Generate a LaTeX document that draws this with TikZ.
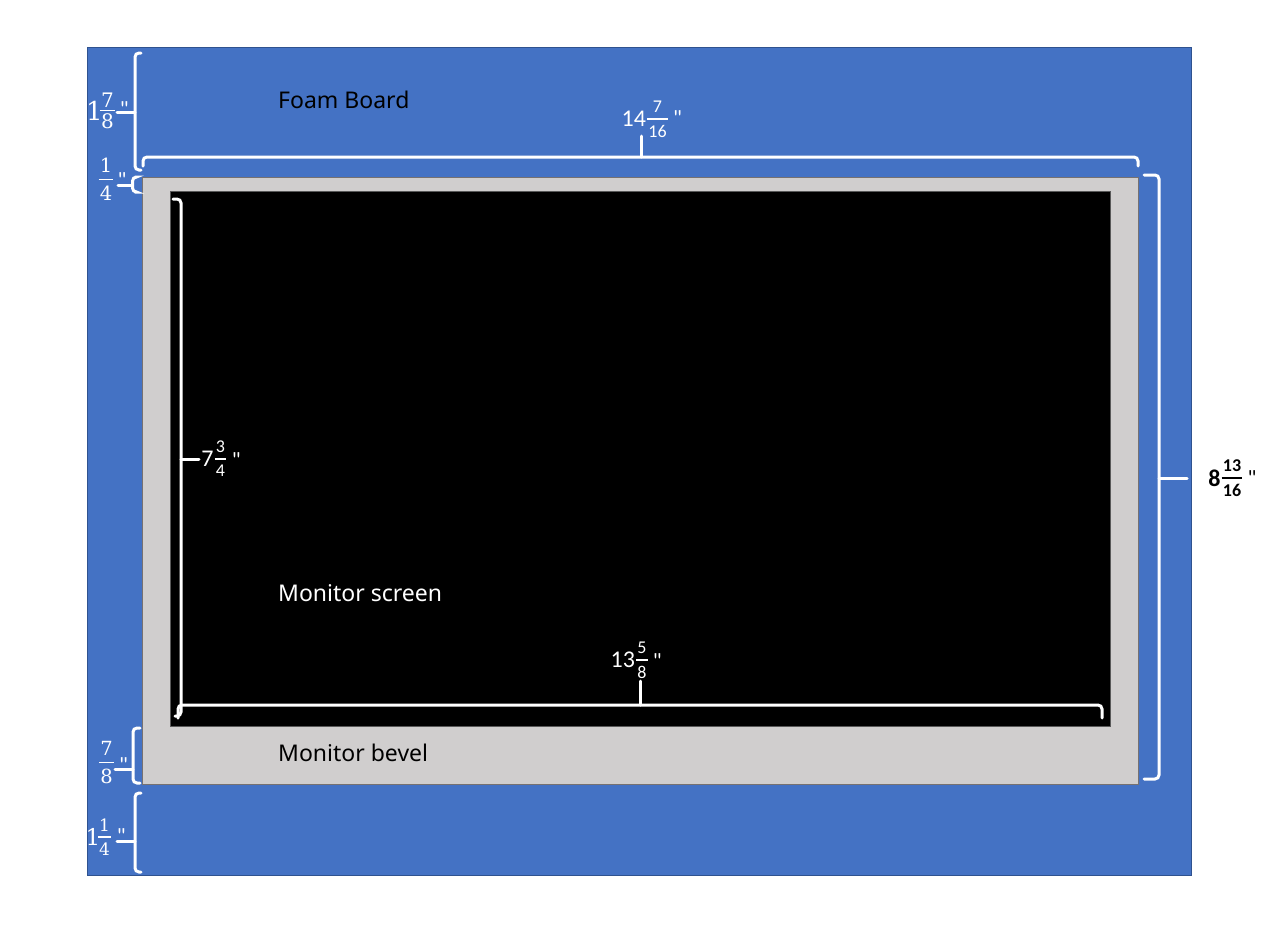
\documentclass[tikz,border=0pt]{standalone}
\usepackage{fontspec}
\usetikzlibrary{fit}
\setmainfont{Noto Sans}
\newfontfamily\calfont{Carlito}
\newfontfamily\serfont{DejaVu Serif}
\definecolor{boardblue}{HTML}{4472C4}
\definecolor{boardedge}{HTML}{2F528F}
\definecolor{bevelgray}{HTML}{D0CECE}
\definecolor{beveledge}{HTML}{767171}
\definecolor{screenedge}{HTML}{595959}
% fraction: #1 name, #2 x, #3 y (bar), #4 num, #5 den, #6 style, #7 gap
\newcommand\fracnodes[7]{%
  \coordinate (#1y) at (#2,#3);
  \node[anchor=south,inner sep=0pt,#6] (#1n) at (#2,#3-#7) {#4};
  \node[anchor=north,inner sep=0pt,#6] (#1d) at (#2,#3+#7) {#5};
  \node[fit=(#1n)(#1d),inner sep=0pt,inner xsep=0.8pt] (#1f) {};
  \draw[fracbar,#6] (#1f.west |- #1y) -- (#1f.east |- #1y);
}
\begin{document}
\begin{tikzpicture}[x=1pt,y=-1pt,
  brace/.style={white,line width=3pt,rounded corners=4pt,line cap=round},
  fracbar/.style={line width=1.1pt},
  panel/.style={anchor=north west,inner sep=0pt,outer sep=0pt,line width=1pt},
  title/.style={anchor=base west,inner sep=0pt,font=\fontsize{23}{28}\selectfont},
  wht/.style={color=white},
  blk/.style={color=black},
  serwhole/.style={inner sep=0pt,anchor=east,text=white,font=\serfont\fontsize{#1}{#1}\selectfont},
  serfrac/.style={wht,font=\serfont\fontsize{#1}{#1}\selectfont},
  calwhole/.style={inner sep=0pt,anchor=east,text=white,font=\calfont\fontsize{24}{24}\selectfont},
  calfrac/.style={wht,font=\calfont\fontsize{18}{18}\selectfont},
  quote/.style={inner sep=0pt,anchor=north west,text=white,font=\calfont\fontsize{22}{22}\selectfont}]
\useasboundingbox (0,0) rectangle (1278,932);
% panels
\node[panel,draw=boardedge,fill=boardblue,minimum width=1104pt,minimum height=828pt] (board) at (87,47) {};
\node[panel,draw=beveledge,fill=bevelgray,minimum width=996pt,minimum height=607pt] (bevel) at (142,177) {};
\node[panel,draw=screenedge,fill=black,minimum width=940pt,minimum height=535pt] (screen) at (170,191) {};
% titles
\node[title,text=black] (tfoam) at (278,108) {Foam Board};
\node[title,text=white] (tscreen) at (278,601) {Monitor screen};
\node[title,text=black] (tbevel) at (278,761) {Monitor bevel};
% ---- braces ----
% foam top 1 7/8
\draw[brace] (141,53) -- (135,53) -- (135,170) -- (141,170);
\draw[brace] (135,112) -- (117,112);
% 1/4
\draw[brace] (135,177) -- (132.5,177) -- (132.5,192) -- (135,192);
\draw[brace] (132.5,185) -- (118,185);
% top width 14 7/16
\draw[brace] (143,166) -- (143,157) -- (1138,157) -- (1138,166);
\draw[brace] (641,157) -- (641,136);
% right height 8 13/16
\draw[brace] (1144,175) -- (1159,175) -- (1159,779) -- (1144,779);
\draw[brace] (1159,478) -- (1187,478);
% screen height 7 3/4
\draw[brace] (173,199) -- (181,199) -- (181,716) -- (175,716);
\draw[brace] (181,459) -- (199,459);
% screen width 13 5/8
\draw[brace] (178,718) -- (178,705) -- (1102,705) -- (1102,718);
\draw[brace] (640,705) -- (640,681);
% bevel 7/8
\draw[brace] (140,728) -- (133,728) -- (133,783) -- (140,783);
\draw[brace] (133,769) -- (115,769);
% foam bottom 1 1/4
\draw[brace] (141,793) -- (135,793) -- (135,872) -- (141,872);
\draw[brace] (135,841) -- (117,841);
% ---- labels ----
% 1 7/8
\fracnodes{la}{107.5}{110.7}{7}{8}{serfrac=20}{3}
\node[serwhole=26] (law) at ([xshift=3pt]laf.west |- lay) {1};
\node[quote] (laq) at ([xshift=4.5pt,yshift=9pt]laf.east |- lay) {"};
% 1/4
\fracnodes{lb}{106}{179.5}{1}{4}{serfrac=19.5}{6.5}
\node[quote] (lbq) at ([xshift=4pt,yshift=7pt]lbf.east |- lby) {"};
% 14 7/16
\fracnodes{lc}{657.5}{119}{7}{16}{calfrac}{6}
\node[calwhole] (lcw) at ([xshift=-1pt]lcf.west |- lcy) {14};
\node[quote] (lcq) at ([xshift=5pt,yshift=9pt]lcf.east |- lcy) {"};
% 8 13/16 (bold, black)
\fracnodes{ld}{1232}{478}{13}{16}{blk,font=\calfont\bfseries\fontsize{18}{18}\selectfont}{6}
\node[calwhole,text=black,font=\calfont\bfseries\fontsize{24}{24}\selectfont] (ldw) at ([xshift=-1pt]ldf.west |- ldy) {8};
\node[quote,text=black] (ldq) at ([xshift=5pt,yshift=8pt]ldf.east |- ldy) {"};
% 7 3/4
\fracnodes{le}{220.5}{459}{3}{4}{calfrac}{6}
\node[calwhole] (lew) at ([xshift=-1pt]lef.west |- ley) {7};
\node[quote] (leq) at ([xshift=5.5pt,yshift=7pt]lef.east |- ley) {"};
% 13 5/8
\fracnodes{lf}{642}{660}{5}{8}{calfrac}{6}
\node[calwhole] (lfw) at ([xshift=-1pt]lff.west |- lfy) {13};
\node[quote] (lfq) at ([xshift=5pt,yshift=7pt]lff.east |- lfy) {"};
% 7/8
\fracnodes{lg}{106.5}{762.5}{7}{8}{serfrac=19.5}{6.5}
\node[quote] (lgq) at ([xshift=5pt,yshift=5.5pt]lgf.east |- lgy) {"};
% 1 1/4
\fracnodes{lh}{104.5}{837}{1}{4}{serfrac=17}{5.5}
\node[serwhole=23] (lhw) at ([xshift=2.5pt]lhf.west |- lhy) {1};
\node[quote] (lhq) at ([xshift=5.5pt,yshift=9pt]lhf.east |- lhy) {"};
\end{tikzpicture}
\end{document}
